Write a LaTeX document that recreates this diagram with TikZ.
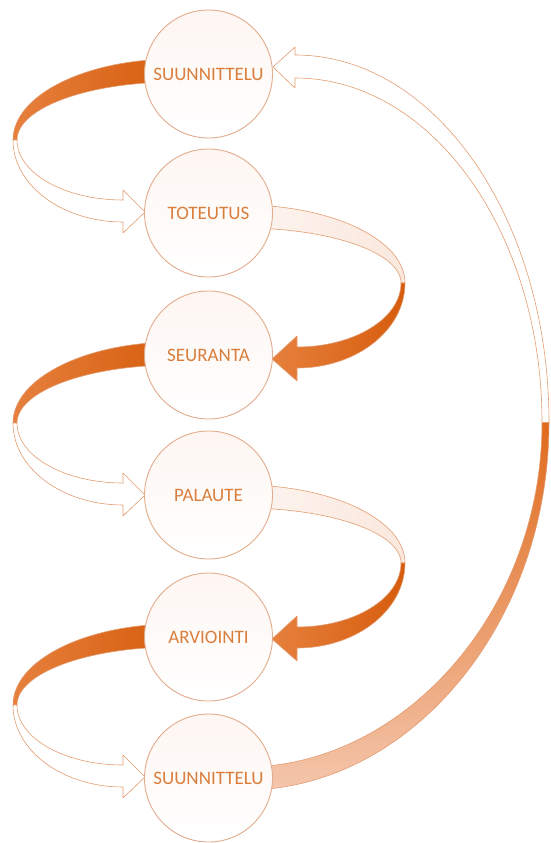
\documentclass[tikz,border=0pt]{standalone}
\usepackage{fontspec}
\setmainfont{Carlito}
\definecolor{edge}{HTML}{E39C70}
\definecolor{circedge}{HTML}{E2AC8C}
\definecolor{circtop}{HTML}{FEF6F2}
\definecolor{txt}{HTML}{D97E3C}
\definecolor{darkor}{HTML}{D65C0C}
\definecolor{midor}{HTML}{E6803D}
\definecolor{lightmid}{HTML}{EFAA80}
\definecolor{paleor}{HTML}{FAE8DE}
\definecolor{paleor2}{HTML}{FDF4F0}
\definecolor{retlight}{HTML}{F4C6AC}
\definecolor{retdark}{HTML}{E06A1C}
\tikzset{
  circ/.style={circle, draw=circedge, line width=0.9pt, minimum size=128pt, inner sep=0pt,
    top color=circtop, bottom color=white, text=txt, font=\fontsize{19}{21}\selectfont},
  ribbon/.style={draw=edge, line width=0.6pt, line join=round},
  backdark/.style={ribbon, left color=midor, middle color=lightmid, right color=darkor},
  frontwhite/.style={ribbon, fill=white},
  frontpale/.style={ribbon, left color=paleor2, right color=paleor},
  backright/.style={ribbon, left color=midor, right color=darkor},
  retback/.style={ribbon, top color=retdark, bottom color=retlight},
}
\newcommand\LeftRibbon[1]{%
  \begin{scope}[yshift=-#1pt]
  \path[backdark] (175,59) .. controls (85.5,59) and (13,95.3) .. (13,140)
    -- (17,140) .. controls (17,108) and (87.7,82) .. (175,82) -- cycle;
  \path[frontwhite] (13,140) .. controls (13,185.3) and (62.2,222) .. (123,222)
    -- (123,233) -- (145,212) -- (123,190) -- (123,200)
    .. controls (64.5,200) and (17,173.1) .. (17,140) -- cycle;
  \end{scope}}
\newcommand\RightRibbon[1]{%
  \begin{scope}[yshift=-#1pt]
  \path[frontpale] (243,205) .. controls (332.5,205) and (405,239.9) .. (405,283)
    -- (401,283) .. controls (401,252.6) and (330.3,228) .. (243,228) -- cycle;
  \path[backright] (405,283) .. controls (405,330) and (356.6,368) .. (297,368)
    -- (297,381) -- (272,359) -- (297,336) -- (297,347)
    .. controls (354.4,347) and (401,318.3) .. (401,283) -- cycle;
  \end{scope}}
\begin{document}
\begin{tikzpicture}[x=1pt,y=-1pt]
\useasboundingbox (0,0) rectangle (550,843);
% return arrow
\path[retback] (549,422.5) .. controls (549,625.5) and (408.5,790) .. (245,790)
  -- (245,767) .. controls (402,767) and (542,612.8) .. (542,422.5) -- cycle;
\path[frontwhite] (295,55) .. controls (435.8,55) and (549,219.5) .. (549,422.5)
  -- (542,422.5) .. controls (542,232.2) and (431.4,78) .. (295,78)
  -- (295,88) -- (273,67) -- (295,47) -- cycle;
% left ribbons
\LeftRibbon{0}
\LeftRibbon{283}
\LeftRibbon{565}
% right ribbons
\RightRibbon{0}
\RightRibbon{280}
% circles
\node[circ] (s1) at (208.5,74) {SUUNNITTELU};
\node[circ] (t) at (208.5,213) {TOTEUTUS};
\node[circ] (se) at (208.5,355) {SEURANTA};
\node[circ] (p) at (208.5,495) {PALAUTE};
\node[circ] (a) at (208.5,637) {ARVIOINTI};
\node[circ] (s2) at (208.5,778) {SUUNNITTELU};
\end{tikzpicture}
\end{document}
